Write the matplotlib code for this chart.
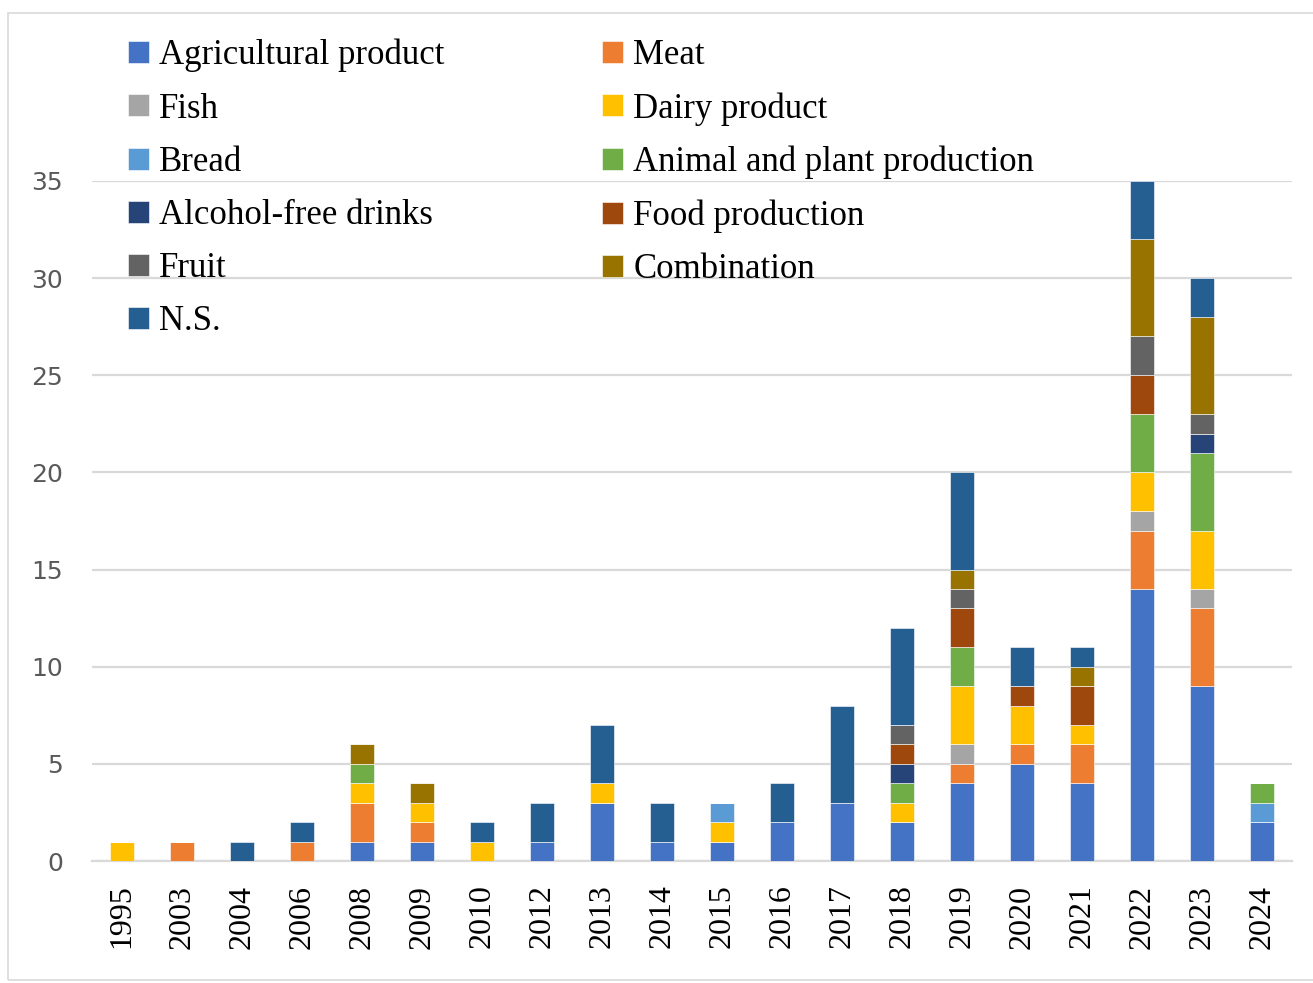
import numpy as np
import matplotlib.pyplot as plt
from matplotlib.patches import Rectangle

years = ['1995', '2003', '2004', '2006', '2008', '2009', '2010', '2012', '2013', '2014',
         '2015', '2016', '2017', '2018', '2019', '2020', '2021', '2022', '2023', '2024']

agricultural = [0, 0, 0, 0, 1, 1, 0, 1, 3, 1, 1, 2, 3, 2, 4, 5, 4, 14, 9, 2]
meat         = [0, 1, 0, 1, 2, 1, 0, 0, 0, 0, 0, 0, 0, 0, 1, 1, 2, 3, 4, 0]
fish         = [0, 0, 0, 0, 0, 0, 0, 0, 0, 0, 0, 0, 0, 0, 1, 0, 0, 1, 1, 0]
dairy        = [1, 0, 0, 0, 1, 1, 1, 0, 1, 0, 1, 0, 0, 1, 3, 2, 1, 2, 3, 0]
bread        = [0, 0, 0, 0, 0, 0, 0, 0, 0, 0, 1, 0, 0, 0, 0, 0, 0, 0, 0, 1]
animal_plant = [0, 0, 0, 0, 1, 0, 0, 0, 0, 0, 0, 0, 0, 1, 2, 0, 0, 3, 4, 1]
alcohol_free = [0, 0, 0, 0, 0, 0, 0, 0, 0, 0, 0, 0, 0, 1, 0, 0, 0, 0, 1, 0]
food_prod    = [0, 0, 0, 0, 0, 0, 0, 0, 0, 0, 0, 0, 0, 1, 2, 1, 2, 2, 0, 0]
fruit        = [0, 0, 0, 0, 0, 0, 0, 0, 0, 0, 0, 0, 0, 1, 1, 0, 0, 2, 1, 0]
combination  = [0, 0, 0, 0, 1, 1, 0, 0, 0, 0, 0, 0, 0, 0, 1, 0, 1, 5, 5, 0]
ns           = [0, 0, 1, 1, 0, 0, 1, 2, 3, 2, 0, 2, 5, 5, 5, 2, 1, 3, 2, 0]

series = [
    ('Agricultural product', agricultural, '#4472C4'),
    ('Meat', meat, '#ED7D31'),
    ('Fish', fish, '#A5A5A5'),
    ('Dairy product', dairy, '#FFC000'),
    ('Bread', bread, '#5B9BD5'),
    ('Animal and plant production', animal_plant, '#70AD47'),
    ('Alcohol-free drinks', alcohol_free, '#264478'),
    ('Food production', food_prod, '#9E480E'),
    ('Fruit', fruit, '#636363'),
    ('Combination', combination, '#997300'),
    ('N.S.', ns, '#255E91'),
]

serif = 'Liberation Serif'

fig = plt.figure(figsize=(13.13, 9.83), dpi=100)
ax = fig.add_axes([0.0701, 0.1241, 0.9139, 0.6918])

x = np.arange(len(years))
bottom = np.zeros(len(years))
handles = {}
for name, vals, col in series:
    vals = np.array(vals, dtype=float)
    b = ax.bar(x, vals, 0.4, bottom=bottom, color=col, edgecolor='white',
               linewidth=0.4, label=name, zorder=3)
    handles[name] = b
    bottom += vals

ax.set_xlim(-0.5, len(years) - 0.5)
ax.set_ylim(0, 35)
ax.set_yticks(range(0, 36, 5))
ax.grid(axis='y', color='#d9d9d9', linewidth=1.6, zorder=0)
for s in ['top', 'right', 'left']:
    ax.spines[s].set_visible(False)
ax.spines['bottom'].set_color('#d9d9d9')
ax.spines['bottom'].set_linewidth(1.6)
ax.tick_params(axis='y', length=0, pad=21, labelsize=18, labelcolor='#595959')
ax.tick_params(axis='x', length=0, pad=17)
ax.set_xticks(x)
ax.set_xticklabels(years, rotation=90, fontsize=23, family=serif, va='top')

names = [s[0] for s in series]
col1 = [names[i] for i in (0, 2, 4, 6, 8, 10)]
col2 = [names[i] for i in (1, 3, 5, 7, 9)]
legkw = dict(frameon=False, prop={'family': serif, 'size': 25}, handlelength=0.6,
             handleheight=0.6, handletextpad=0.3, labelspacing=0.58, borderpad=0,
             borderaxespad=0)
leg1 = fig.legend([handles[n] for n in col1], col1, loc='upper left',
                  bbox_to_anchor=(128 / 1313, 1 - 39 / 983), **legkw)
leg2 = fig.legend([handles[n] for n in col2], col2, loc='upper left',
                  bbox_to_anchor=(602 / 1313, 1 - 39 / 983), **legkw)

fig.patches.append(Rectangle((8 / 1313, 3 / 983), 1400 / 1313, 967 / 983,
                             transform=fig.transFigure, fill=False,
                             edgecolor='#d9d9d9', linewidth=1.2))

fig.savefig('out.png', dpi=100)
